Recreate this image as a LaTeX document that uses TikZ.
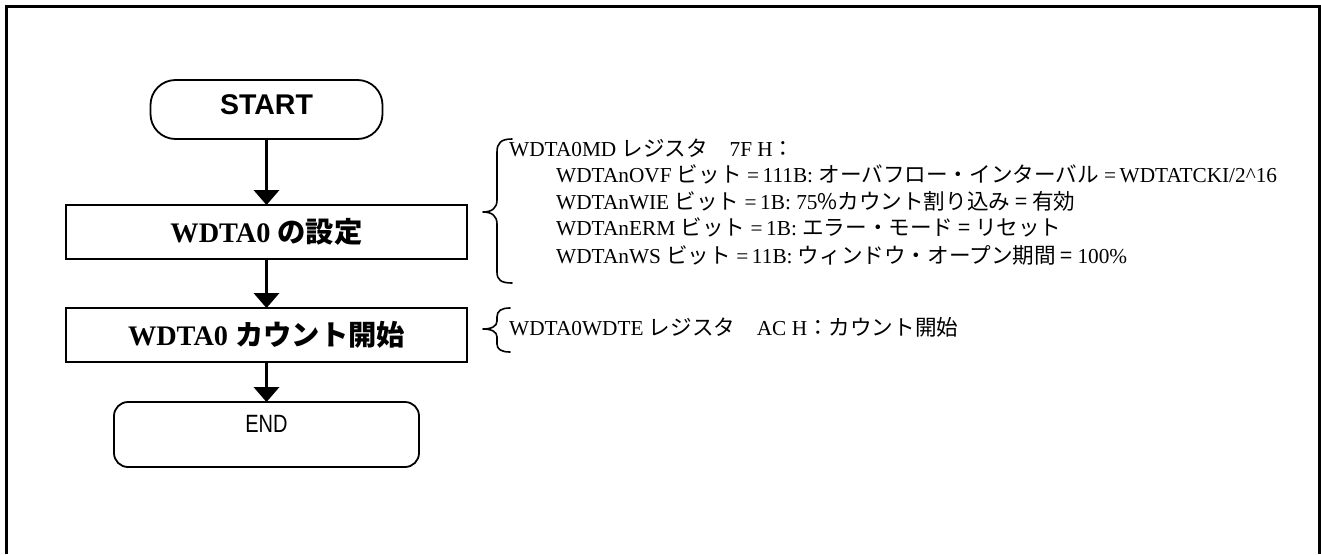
\documentclass[tikz,border=0pt]{standalone}
\usepackage{fontspec}
\usepackage{graphicx}
\setmainfont{Liberation Serif}
\setsansfont{Liberation Sans}
\newfontfamily\jpf{Noto Sans CJK JP}
\newcommand\ja[1]{{\jpf\fontsize{21.6}{24}\selectfont #1}}
\newcommand\jb[1]{{\jpf\bfseries #1}}
\usetikzlibrary{arrows.meta}
\begin{document}
\begin{tikzpicture}[x=1pt,y=-1pt,
  box/.style={draw, line width=1.8pt, minimum width=401pt, minimum height=54pt, inner sep=0pt, outer sep=0pt, font=\fontsize{28.3}{30}\selectfont\bfseries},
  term/.style={draw, line width=1.8pt, inner sep=0pt, outer sep=0pt},
  flow/.style={line width=3.5pt, -{Triangle[width=26pt,length=15pt,line width=0pt]}},
  note/.style={anchor=base west, inner sep=0pt, font=\fontsize{21.3}{24}\selectfont},
  brace/.style={line width=1.6pt, line cap=round, line join=round},
  frame/.style={line width=3pt}]
\useasboundingbox (0,0) rectangle (1321,554);
\draw[frame] (6.5,554) -- (6.5,6.5) -- (1319.5,6.5) -- (1319.5,554);

\node[term, rounded corners=25pt, minimum width=232pt, minimum height=59pt, text depth=9pt,
      font=\sffamily\bfseries\fontsize{28.5}{30}\selectfont] (start) at (266.5,109.5) {START};
\node[box] (set) at (266.5,232) {WDTA0 \jb{の設定}};
\node[box] (cnt) at (266.5,335) {WDTA0 \jb{カウント開始}};
\node[term, rounded corners=14pt, minimum width=305pt, minimum height=65pt, text depth=21pt,
      font=\sffamily\fontsize{25}{28}\selectfont] (end) at (266.5,434.5) {\scalebox{0.8}[1]{END}};

\draw[flow] (start.south) -- (set.north);
\draw[flow] (set.south) -- (cnt.north);
\draw[flow] (cnt.south) -- (end.north);

\draw[brace] (512,139) .. controls (501,139) and (497,143) .. (497,152) -- (497,200)
  .. controls (497,208) and (492,212) .. (483,212)
  .. controls (492,212) and (497,216) .. (497,224) -- (497,272)
  .. controls (497,280) and (501,283) .. (512,283);
\draw[brace] (510,308) .. controls (501,308) and (497,311) .. (497,317) -- (497,321)
  .. controls (497,326) and (492,329) .. (483,329)
  .. controls (492,329) and (497,332) .. (497,337) -- (497,344)
  .. controls (497,349) and (501,352) .. (510,352);

\node[note] (n1) at (509,156.6) {WDTA0MD \ja{レジスタ　}7F H\ja{：}};
\node[note] (n2) at (556,182.6) {WDTAnOVF \ja{ビット}\ =\,111B: \ja{オーバフロー・インターバル}\ =\,WDTATCKI/2\^{}16};
\node[note] (n3) at (556,209.6) {WDTAnWIE \ja{ビット}\ =\,1B: 75\ja{\%カウント割り込み = 有効}};
\node[note] (n4) at (556,235.6) {WDTAnERM \ja{ビット}\ =\,1B: \ja{エラー・モード = リセット}};
\node[note] (n5) at (556,263.6) {WDTAnWS \ja{ビット}\ =\,11B: \ja{ウィンドウ・オープン期間 = }100\%};
\node[note] (n6) at (509,335.6) {WDTA0WDTE \ja{レジスタ　}AC H\ja{：カウント開始}};
\end{tikzpicture}
\end{document}
